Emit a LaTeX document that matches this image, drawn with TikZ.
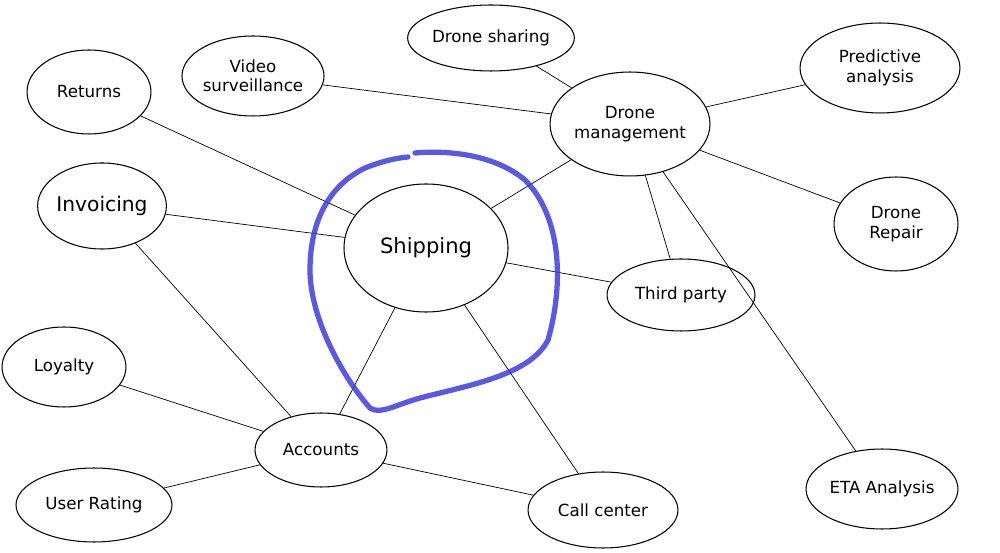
\documentclass[tikz,border=0pt]{standalone}
\usepackage{fontspec}
\setmainfont{DejaVu Sans}
\usetikzlibrary{shapes.geometric}
\definecolor{pen}{RGB}{60,60,225}
\begin{document}
\begin{tikzpicture}[x=0.02cm,y=-0.02cm,
 e/.style={draw,ellipse,inner sep=0pt,align=center,font=\fontsize{9.5}{11}\selectfont,line width=0.6pt},
 l/.style={line width=0.4pt}]
\useasboundingbox (0,0) rectangle (1000,553);
\newcommand\el[5]{\node[e,minimum width=#3*0.04cm,minimum height=#4*0.04cm] (#1) at #2 {#5};}
\el{vid}{(253,76)}{68}{40}{Video\\surveillance}
\el{share}{(491,38)}{82}{33}{Drone sharing}
\el{dm}{(630,124)}{80}{52}{Drone\\management}
\el{pred}{(880,68)}{80}{45}{Predictive\\analysis}
\el{ret}{(89,92)}{62}{42}{Returns}
\node[e,minimum width=124*0.02cm,minimum height=86*0.02cm,font=\fontsize{11.5}{13}\selectfont] (inv) at (102,206) {Invoicing};
\node[e,minimum width=164*0.02cm,minimum height=128*0.02cm,font=\fontsize{12}{14}\selectfont] (ship) at (426,248) {Shipping};
\el{rep}{(896,224)}{62}{47}{Drone\\Repair}
\el{third}{(681,295)}{74}{36}{Third party}
\el{loy}{(64,367)}{62}{40}{Loyalty}
\el{acc}{(321,450)}{66}{37}{Accounts}
\el{user}{(94,505)}{78}{37}{User Rating}
\el{call}{(603,510)}{75}{38}{Call center}
\el{eta}{(882,489)}{76}{40}{ETA Analysis}
\foreach \a/\b in {vid/dm,share/dm,dm/pred,dm/rep,dm/eta,dm/third,dm/ship,ret/ship,inv/ship,ship/third,ship/acc,ship/call,inv/acc,loy/acc,user/acc,acc/call}
 \draw[l] (\a) -- (\b);
\draw[line width=3pt,color=pen,opacity=0.85,line cap=round,line join=round]
 (415,153) .. controls (450,150) and (495,155) .. (525,180)
 .. controls (560,215) and (565,280) .. (548,340)
 .. controls (530,375) and (470,385) .. (420,398)
 .. controls (395,405) and (380,415) .. (370,408)
 .. controls (345,380) and (310,320) .. (310,270)
 .. controls (310,220) and (330,185) .. (365,168)
 .. controls (380,162) and (395,158) .. (408,157);
\end{tikzpicture}
\end{document}
